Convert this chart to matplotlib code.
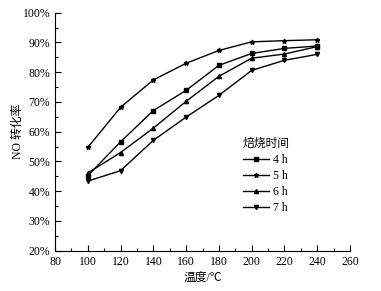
import numpy as np
import matplotlib
matplotlib.use('Agg')
import matplotlib.pyplot as plt
from matplotlib.ticker import MultipleLocator, FuncFormatter

plt.rcParams['font.family'] = ['Liberation Serif', 'Noto Sans CJK SC']

# temperatures (C)
temps = [100, 120, 140, 160, 180, 200, 220, 240]
# NO conversion (%) for each calcination time
conv_4h = [45.2, 56.6, 67.1, 73.9, 82.3, 86.3, 88.0, 88.8]
conv_5h = [54.7, 68.2, 77.4, 83.0, 87.3, 90.2, 90.6, 90.9]
conv_6h = [46.1, 53.0, 61.2, 70.2, 78.6, 84.7, 86.1, 88.6]
conv_7h = [43.4, 46.9, 57.1, 64.9, 72.2, 80.6, 84.0, 86.0]
labels = ['4 h', '5 h', '6 h', '7 h']

fig = plt.figure(figsize=(3.81, 2.91), dpi=100)
ax = fig.add_axes([0.1444, 0.1385, 0.7742, 0.8179])

ax.plot(temps, conv_4h, 'k-', marker='s', ms=2.5, lw=1, label=labels[0])
ax.plot(temps, conv_5h, 'k-', marker='*', ms=3.5, lw=1, label=labels[1])
ax.plot(temps, conv_6h, 'k-', marker='^', ms=3, lw=1, label=labels[2])
ax.plot(temps, conv_7h, 'k-', marker='v', ms=3, lw=1, label=labels[3])

ax.set_xlim(80, 260)
ax.set_ylim(20, 100)
ax.xaxis.set_major_locator(MultipleLocator(20))
ax.xaxis.set_minor_locator(MultipleLocator(10))
ax.yaxis.set_major_locator(MultipleLocator(10))
ax.yaxis.set_minor_locator(MultipleLocator(5))
ax.yaxis.set_major_formatter(FuncFormatter(lambda v, p: '%d%%' % v))
ax.tick_params(which='both', direction='in', labelsize=8.5, width=0.8)
ax.tick_params(which='major', length=4)
ax.tick_params(which='minor', length=2)
ax.spines['top'].set_visible(False)
ax.spines['right'].set_visible(False)

ax.set_xlabel('温度/℃', fontsize=8.5, labelpad=3)
ax.set_ylabel('NO 转化率', fontsize=8.5, labelpad=-1)

leg = ax.legend(title='焙烧时间', loc='upper left', bbox_to_anchor=(0.6, 0.52),
                frameon=False, fontsize=8.5, title_fontsize=8.5,
                handlelength=2.2, labelspacing=0.35, handletextpad=0.4)
leg._legend_box.align = 'left'

fig.savefig('out.png', dpi=100)
